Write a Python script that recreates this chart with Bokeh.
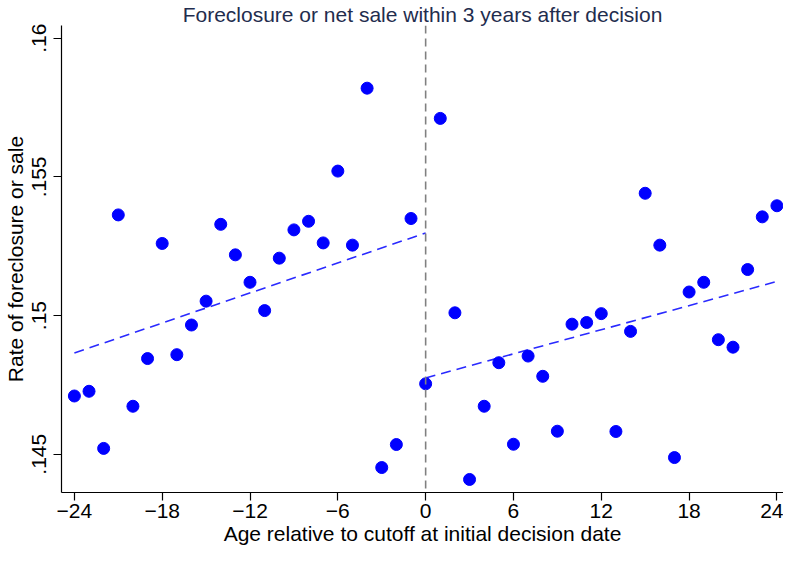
from bokeh.plotting import figure
from bokeh.models import Span, FixedTicker, Range1d
from bokeh.embed import file_html
from bokeh.resources import INLINE

# ages relative to cutoff
ages_left = list(range(-24, 0))
ages_right = list(range(0, 25))

rate_left = [0.14710, 0.14727, 0.14521, 0.15363, 0.14673, 0.14845, 0.15260, 0.14859,
             0.14966, 0.15052, 0.15329, 0.15219, 0.15120, 0.15018, 0.15207, 0.15309,
             0.15340, 0.15262, 0.15521, 0.15254, 0.15820, 0.14452, 0.14535, 0.15350]
rate_right = [0.14754, 0.15711, 0.15010, 0.14409, 0.14673, 0.14830, 0.14536, 0.14854,
              0.14781, 0.14583, 0.14969, 0.14975, 0.15007, 0.14582, 0.14943, 0.15441,
              0.15254, 0.14488, 0.15085, 0.15120, 0.14913, 0.14886, 0.15166, 0.15356,
              0.15396]

fit_left_x = [-24, 0]
fit_left_y = [0.14865, 0.15298]
fit_right_x = [0, 24]
fit_right_y = [0.14775, 0.15123]

xticks = [-24, -18, -12, -6, 0, 6, 12, 18, 24]
yticks = [0.145, 0.15, 0.155, 0.16]
ytick_labels = [".145", ".15", ".155", ".16"]

title_text = "Foreclosure or net sale within 3 years after decision"
x_label = "Age relative to cutoff at initial decision date"
y_label = "Rate of foreclosure or sale"

FONT = "Liberation Sans"
FS = "21px"

p = figure(width=783, height=547, output_backend="svg", toolbar_location=None,
           x_range=Range1d(-24.88, 24.45), y_range=Range1d(0.14362, 0.16046),
           min_border_left=10, min_border_right=0, min_border_top=0, min_border_bottom=0)

p.title.text = title_text
p.title.align = "center"
p.title.text_font = FONT
p.title.text_font_size = FS
p.title.text_font_style = "normal"
p.title.text_color = "#1f2d4e"
p.title.standoff = 0
p.title.offset = 0

p.outline_line_color = None
p.xgrid.visible = False
p.ygrid.visible = False
p.background_fill_color = "white"
p.border_fill_color = "white"

vline = Span(location=0, dimension="height", line_color="#808080", line_width=1.6,
             line_dash="8 5")
p.add_layout(vline)

p.line(fit_left_x, fit_left_y, line_color="#2a2aff", line_width=1.6, line_dash="10 6")
p.line(fit_right_x, fit_right_y, line_color="#2a2aff", line_width=1.6, line_dash="10 6")

p.scatter(ages_left, rate_left, size=12, color="#0000ff")
p.scatter(ages_right, rate_right, size=12, color="#0000ff")

xa = p.xaxis[0]
xa.ticker = FixedTicker(ticks=xticks)
xa.axis_label = x_label
ya = p.yaxis[0]
ya.ticker = FixedTicker(ticks=yticks)
ya.major_label_overrides = dict(zip(yticks, ytick_labels))
ya.axis_label = y_label
ya.major_label_orientation = "parallel"

for ax in (xa, ya):
    ax.axis_line_color = "black"
    ax.axis_line_width = 1.2
    ax.major_tick_line_color = "black"
    ax.major_tick_line_width = 1.2
    ax.major_tick_out = 8
    ax.major_tick_in = 0
    ax.minor_tick_line_color = None
    ax.major_label_text_font = FONT
    ax.major_label_text_font_size = FS
    ax.major_label_text_color = "black"
    ax.axis_label_text_font = FONT
    ax.axis_label_text_font_size = FS
    ax.axis_label_text_font_style = "normal"
    ax.axis_label_text_color = "black"

xa.major_label_standoff = 3
xa.axis_label_standoff = 1
ya.major_label_standoff = 7
ya.axis_label_standoff = 3

open("out.html", "w").write(file_html(p, INLINE))
